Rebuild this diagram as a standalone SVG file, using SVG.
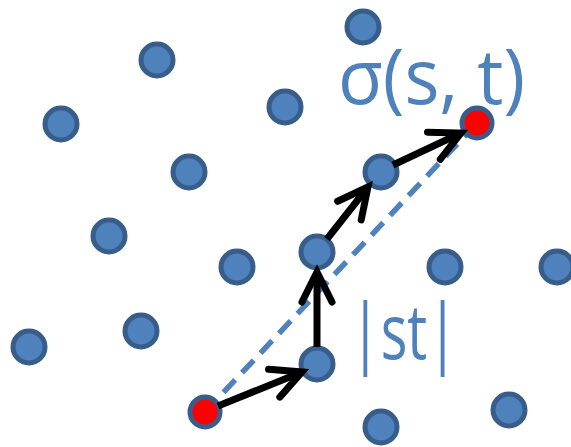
<svg xmlns="http://www.w3.org/2000/svg" width="571" height="447" viewBox="0 0 571 447">
<style>
.pt{fill:#4F81BD;stroke:#385D8A;stroke-width:5}
.src{fill:#FF0000;stroke:#385D8A;stroke-width:5}
.lbl{font-family:"Open Sans","Liberation Sans",sans-serif;fill:#4F81BD;font-size:76px}
.arr{stroke:#000;stroke-width:7;fill:none;marker-end:url(#head)}
</style>
<defs>
<marker id="head" markerUnits="userSpaceOnUse" viewBox="-40 -25 50 50" markerWidth="50" markerHeight="50" refX="0" refY="0" orient="auto" overflow="visible">
<path d="M-30,-15 L0,0 L-30,15" fill="none" stroke="#000" stroke-width="7" stroke-linecap="round" stroke-linejoin="miter"/>
</marker>
</defs>
<rect width="571" height="447" fill="#fff"/>
<g id="dashed">
<line x1="205" y1="412" x2="477" y2="123" stroke="#4F81BD" stroke-width="5.5" stroke-dasharray="17 10"/>
</g>
<g id="nodes">
<circle id="n1" class="pt" cx="363" cy="27" r="16"/>
<circle id="n2" class="pt" cx="157" cy="60" r="16"/>
<circle id="n3" class="pt" cx="285" cy="107" r="16"/>
<circle id="n4" class="pt" cx="61" cy="124" r="16"/>
<circle id="n5" class="pt" cx="189" cy="172" r="16"/>
<circle id="n6" class="pt" cx="381" cy="172" r="16"/>
<circle id="n7" class="pt" cx="109" cy="236" r="16"/>
<circle id="n8" class="pt" cx="317" cy="252" r="16"/>
<circle id="n9" class="pt" cx="237" cy="267" r="16"/>
<circle id="n10" class="pt" cx="445" cy="267" r="16"/>
<circle id="n11" class="pt" cx="557" cy="267" r="16"/>
<circle id="n12" class="pt" cx="141" cy="331" r="16"/>
<circle id="n13" class="pt" cx="29" cy="347" r="16"/>
<circle id="n14" class="pt" cx="317" cy="364" r="16"/>
<circle id="n15" class="pt" cx="509" cy="410" r="16"/>
<circle id="n16" class="pt" cx="381" cy="427" r="16"/>
<circle id="s" class="src" cx="205" cy="412" r="15"/>
<circle id="t" class="src" cx="477" cy="123" r="15"/>
</g>
<g id="connectors">
<line class="arr" x1="218" y1="406" x2="302" y2="372"/>
<line class="arr" x1="317" y1="347" x2="317" y2="272"/>
<line class="arr" x1="327" y1="239" x2="368" y2="187"/>
<line class="arr" x1="393" y1="165" x2="461" y2="133"/>
</g>
<g id="labels">
<text class="lbl" x="338" y="104" textLength="187" lengthAdjust="spacingAndGlyphs">σ(s, t)</text>
<text class="lbl" x="350" y="359" textLength="108" lengthAdjust="spacingAndGlyphs">|st|</text>
</g>
</svg>
